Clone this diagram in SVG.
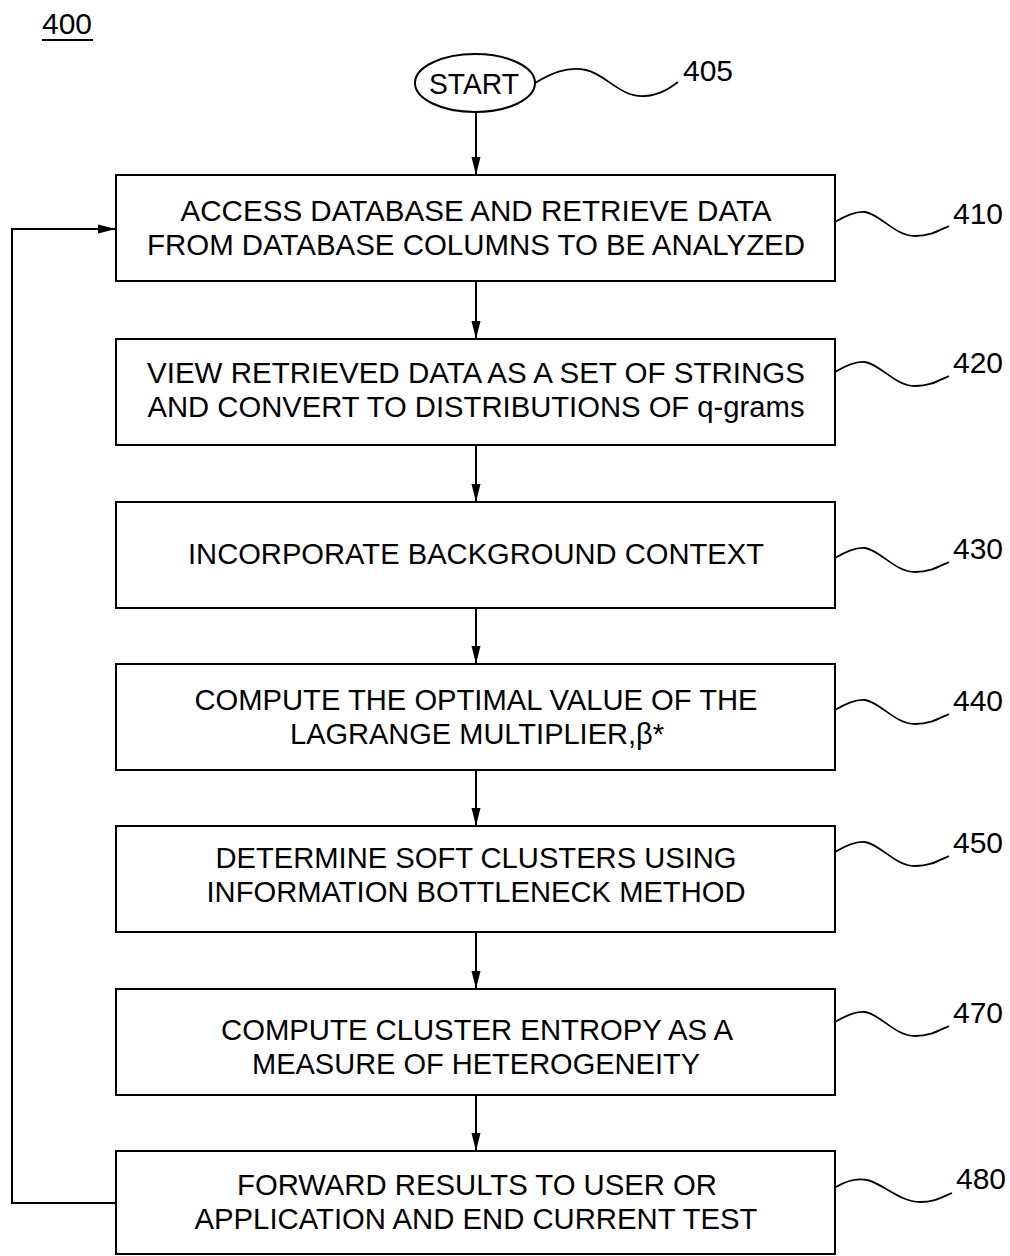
<svg xmlns="http://www.w3.org/2000/svg" width="1010" height="1256" viewBox="0 0 1010 1256">
<defs>
<style>
.box{fill:#fff;stroke:#000;stroke-width:2}
.t{font-family:"Liberation Sans",Arial,sans-serif;font-size:30px;fill:#000;text-anchor:middle}
.ref{font-family:"Liberation Sans",Arial,sans-serif;font-size:30px;fill:#000}
.conn{fill:none;stroke:#000;stroke-width:2}
.sq{fill:none;stroke:#000;stroke-width:1.8}
</style>
<marker id="ah" markerWidth="18" markerHeight="10" refX="18" refY="5" orient="auto" markerUnits="userSpaceOnUse">
<path d="M0,0.5 L18,5 L0,9.5 z" fill="#000"/>
</marker>
</defs>
<rect width="1010" height="1256" fill="#fff"/>

<g id="label400">
<text class="ref" x="42" y="34">400</text>
<line x1="42" y1="40" x2="93" y2="40" stroke="#000" stroke-width="2"/>
</g>

<g id="connectors">
<line class="conn" x1="476" y1="112" x2="476" y2="175" marker-end="url(#ah)"/>
<line class="conn" x1="476" y1="281" x2="476" y2="339" marker-end="url(#ah)"/>
<line class="conn" x1="476" y1="445" x2="476" y2="502" marker-end="url(#ah)"/>
<line class="conn" x1="476" y1="608" x2="476" y2="664" marker-end="url(#ah)"/>
<line class="conn" x1="476" y1="770" x2="476" y2="826" marker-end="url(#ah)"/>
<line class="conn" x1="476" y1="932" x2="476" y2="989" marker-end="url(#ah)"/>
<line class="conn" x1="476" y1="1095" x2="476" y2="1151" marker-end="url(#ah)"/>
<polyline class="conn" points="116,1203 12,1203 12,229 116,229" marker-end="url(#ah)"/>
</g>

<g id="n405">
<ellipse cx="475" cy="83" rx="60" ry="29" fill="#fff" stroke="#000" stroke-width="2"/>
<text class="t" x="474" y="94" textLength="90" lengthAdjust="spacingAndGlyphs">START</text>
<path class="sq" d="M535,83 C550,74 566,66 586,70 C606,74 620,98 645,96 C660,95 670,88 678,82"/>
<text class="ref" x="683" y="81">405</text>
</g>

<g id="n410">
<rect class="box" x="116" y="175" width="719" height="106"/>
<text class="t" x="476" y="221" textLength="591" lengthAdjust="spacingAndGlyphs">ACCESS DATABASE AND RETRIEVE DATA</text>
<text class="t" x="476" y="255" textLength="658" lengthAdjust="spacingAndGlyphs">FROM DATABASE COLUMNS TO BE ANALYZED</text>
<path class="sq" d="M835,222 C845,216 855,211 865,212 C880,214 895,236 915,236 C930,236 938,231 949,226"/>
<text class="ref" x="953" y="224">410</text>
</g>

<g id="n420">
<rect class="box" x="116" y="339" width="719" height="106"/>
<text class="t" x="476" y="383" textLength="658" lengthAdjust="spacingAndGlyphs">VIEW RETRIEVED DATA AS A SET OF STRINGS</text>
<text class="t" x="476" y="417" textLength="657" lengthAdjust="spacingAndGlyphs">AND CONVERT TO DISTRIBUTIONS OF q-grams</text>
<path class="sq" d="M835,372 C845,366 855,361 865,362 C880,364 895,386 915,386 C930,386 938,381 949,376"/>
<text class="ref" x="953" y="373">420</text>
</g>

<g id="n430">
<rect class="box" x="116" y="502" width="719" height="106"/>
<text class="t" x="476" y="564" textLength="576" lengthAdjust="spacingAndGlyphs">INCORPORATE BACKGROUND CONTEXT</text>
<path class="sq" d="M835,558 C845,552 855,547 865,548 C880,550 895,572 915,572 C930,572 938,567 949,562"/>
<text class="ref" x="953" y="559">430</text>
</g>

<g id="n440">
<rect class="box" x="116" y="664" width="719" height="106"/>
<text class="t" x="476" y="710" textLength="563" lengthAdjust="spacingAndGlyphs">COMPUTE THE OPTIMAL VALUE OF THE</text>
<text class="t" x="477" y="744" textLength="374" lengthAdjust="spacingAndGlyphs">LAGRANGE MULTIPLIER,β*</text>
<path class="sq" d="M835,710 C845,704 855,699 865,700 C880,702 895,724 915,724 C930,724 938,719 949,714"/>
<text class="ref" x="953" y="711">440</text>
</g>

<g id="n450">
<rect class="box" x="116" y="826" width="719" height="106"/>
<text class="t" x="476" y="868" textLength="521" lengthAdjust="spacingAndGlyphs">DETERMINE SOFT CLUSTERS USING</text>
<text class="t" x="476" y="902" textLength="539" lengthAdjust="spacingAndGlyphs">INFORMATION BOTTLENECK METHOD</text>
<path class="sq" d="M835,852 C845,846 855,841 865,842 C880,844 895,866 915,866 C930,866 938,861 949,856"/>
<text class="ref" x="953" y="853">450</text>
</g>

<g id="n470">
<rect class="box" x="116" y="989" width="719" height="106"/>
<text class="t" x="477" y="1040" textLength="512" lengthAdjust="spacingAndGlyphs">COMPUTE CLUSTER ENTROPY AS A</text>
<text class="t" x="476" y="1074" textLength="448" lengthAdjust="spacingAndGlyphs">MEASURE OF HETEROGENEITY</text>
<path class="sq" d="M835,1022 C845,1016 855,1011 865,1012 C880,1014 895,1036 915,1036 C930,1036 938,1031 949,1026"/>
<text class="ref" x="953" y="1023">470</text>
</g>

<g id="n480">
<rect class="box" x="116" y="1151" width="719" height="103"/>
<text class="t" x="477" y="1195" textLength="480" lengthAdjust="spacingAndGlyphs">FORWARD RESULTS TO USER OR</text>
<text class="t" x="476" y="1229" textLength="563" lengthAdjust="spacingAndGlyphs">APPLICATION AND END CURRENT TEST</text>
<path class="sq" d="M836,1187 C846,1181 856,1178 867,1180 C882,1183 900,1202 920,1202 C935,1202 942,1197 952,1193"/>
<text class="ref" x="956" y="1189">480</text>
</g>
</svg>
